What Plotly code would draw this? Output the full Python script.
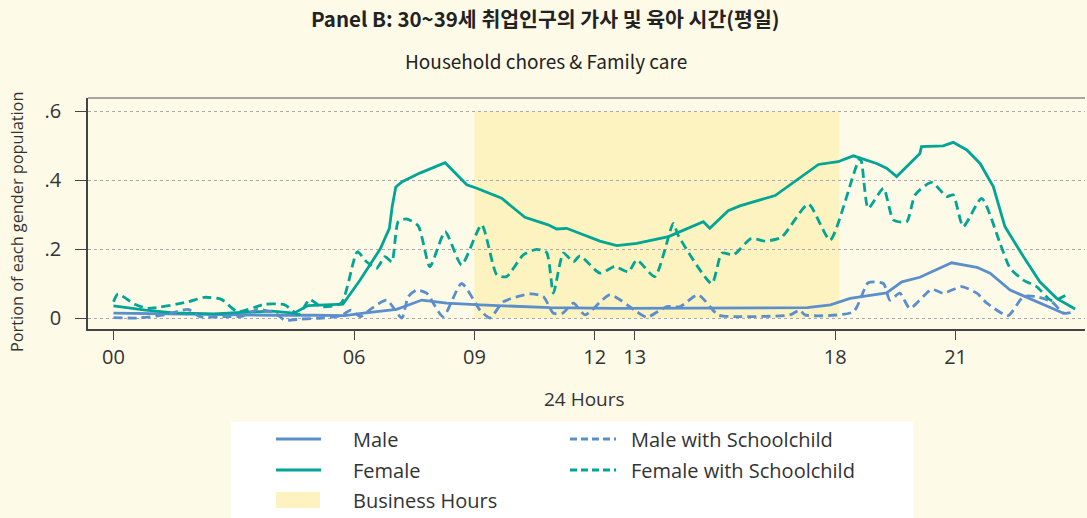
import plotly.graph_objects as go

# ---------------- data ----------------
x_tick_vals = [0, 6, 9, 12, 13, 18, 21]
x_tick_text = ["00", "06", "09", "12", "13", "18", "21"]
y_tick_vals = [0, 0.2, 0.4, 0.6]
y_tick_text = ["0", ".2", ".4", ".6"]

business_hours = [9, 18.1]
business_top = 0.6

male_h = [0, 1.0, 2.0, 3.0, 4.0, 5.0, 5.77, 6.23, 7.06, 7.69, 8.31, 9.14, 10.89, 12.5, 14.0,
          16.2, 17.3, 17.88, 18.37, 19.28, 19.66, 20.11, 20.9, 21.53, 21.86, 22.36, 23.69]
male_v = [0.014, 0.012, 0.01, 0.009, 0.008, 0.008, 0.007, 0.014, 0.025, 0.052, 0.043, 0.038, 0.03,
          0.028, 0.028, 0.029, 0.03, 0.038, 0.057, 0.073, 0.105, 0.118, 0.16, 0.147, 0.13, 0.081, 0.014]

female_h = [0, 0.8, 1.5, 2.5, 3.3, 3.95, 4.5, 4.85, 5.72, 6.15, 6.65, 6.88, 6.95, 7.04, 7.2, 7.64,
            8.27, 8.81, 9.06, 9.68, 10.26, 10.84, 11.05, 11.3, 12.13, 12.55, 13.05, 13.84, 14.71,
            14.87, 15.33, 15.62, 16.5, 17.58, 18.07, 18.45, 19.03, 19.28, 19.53, 20.11, 20.15,
            20.69, 20.94, 21.28, 21.61, 21.94, 22.23, 22.69, 23.1, 23.52, 23.98]
female_v = [0.035, 0.023, 0.015, 0.012, 0.017, 0.02, 0.014, 0.036, 0.04, 0.11, 0.20, 0.26, 0.323,
            0.38, 0.395, 0.42, 0.45, 0.386, 0.376, 0.347, 0.292, 0.27, 0.258, 0.26, 0.223, 0.21,
            0.216, 0.236, 0.279, 0.26, 0.311, 0.325, 0.355, 0.445, 0.453, 0.47, 0.448, 0.434, 0.41,
            0.477, 0.497, 0.499, 0.509, 0.487, 0.448, 0.381, 0.265, 0.178, 0.105, 0.057, 0.026]

male_sc_h = [0, 0.6, 1.28, 1.86, 2.15, 2.8, 3.2, 3.6, 4.02, 4.27, 4.68, 5.2, 5.68, 5.92, 6.15,
             6.44, 6.81, 7.19, 7.35, 7.56, 7.81, 8.22, 8.68, 9.14, 9.39, 9.72, 10.39, 10.72, 10.97,
             11.2, 11.47, 11.76, 12.38, 13.05, 13.3, 13.8, 14.13, 14.58, 15.08, 15.62, 16.87,
             17.12, 17.24, 18.45, 18.82, 19.2, 19.36, 19.61, 19.86, 20.4, 20.69, 21.15, 21.53,
             21.78, 22.31, 22.69, 23.02, 23.4, 23.69, 23.94]
male_sc_v = [0.001, 0.0, 0.009, 0.025, 0.004, 0.004, 0.005, 0.025, 0.015, -0.006, -0.003, 0.0,
             0.007, 0.023, 0.004, 0.028, 0.052, 0.0, 0.062, 0.081, 0.072, 0.004, 0.1, 0.023, 0.0,
             0.047, 0.07, 0.062, 0.014, 0.014, 0.043, 0.009, 0.067, 0.018, 0.002, 0.033, 0.033,
             0.067, 0.009, 0.004, 0.009, 0.023, 0.009, 0.018, 0.102, 0.1, 0.052, 0.072, 0.028,
             0.083, 0.072, 0.091, 0.072, 0.043, 0.007, 0.062, 0.062, 0.047, 0.014, 0.017]

female_sc_h = [0, 0.11, 0.53, 0.86, 1.86, 2.27, 2.69, 3.1, 3.77, 4.27, 4.62, 4.89, 5.17, 5.68,
               6.08, 6.31, 6.56, 6.77, 6.94, 7.1, 7.31, 7.6, 7.89, 8.27, 8.68, 9.18, 9.56, 9.8,
               10.22, 10.55, 10.8, 10.97, 11.22, 11.47, 11.63, 12.13, 12.5, 12.84, 13.05, 13.5,
               13.96, 14.08, 14.92, 15.17, 15.46, 15.9, 16.25, 16.66, 17.33, 17.87, 18.62, 18.82,
               19.2, 19.45, 19.78, 19.99, 20.4, 20.78, 20.94, 21.19, 21.65, 22.11, 22.36, 22.69,
               23.02, 23.4, 23.77]
female_sc_v = [0.047, 0.069, 0.04, 0.028, 0.047, 0.06, 0.054, 0.018, 0.04, 0.038, 0.01, 0.054,
               0.033, 0.043, 0.192, 0.163, 0.144, 0.178, 0.163, 0.279, 0.287, 0.267, 0.149, 0.25,
               0.154, 0.27, 0.125, 0.12, 0.183, 0.199, 0.19, 0.072, 0.188, 0.163, 0.18, 0.13,
               0.149, 0.134, 0.168, 0.12, 0.274, 0.24, 0.1, 0.188, 0.183, 0.23, 0.223, 0.234,
               0.33, 0.226, 0.463, 0.318, 0.376, 0.284, 0.279, 0.357, 0.393, 0.352, 0.357, 0.265,
               0.347, 0.216, 0.144, 0.11, 0.091, 0.05, 0.067]

legend_labels = ["Male", "Female", "Business Hours", "Male with Schoolchild", "Female with Schoolchild"]
title_text = "Panel B: 30~39세 취업인구의 가사 및 육아 시간(평일)"
subtitle_text = "Household chores & Family care"
x_title = "24 Hours"
y_title = "Portion of each gender population"

# ---------------- style ----------------
W, H = 1087, 518
L, R, T, B = 88, 1085, 98, 329          # plot area in pixels
BG = "#FEFAE8"
SHADE = "#FDF3C0"
BLUE = "#5B8FCC"
TEAL = "#00A596"
TXT = "#333333"
LW = 2.8
DASH = "9px,5px"
CJK = "Noto Sans CJK KR"
SANS = "Open Sans"


def px(x):
    return (x - L) / (R - L)


def py(y):
    return (B - y) / (B - T)


fig = go.Figure()

fig.add_trace(go.Scatter(x=male_h, y=male_v, mode="lines", name=legend_labels[0],
                         line=dict(color=BLUE, width=LW), showlegend=False))
fig.add_trace(go.Scatter(x=female_h, y=female_v, mode="lines", name=legend_labels[1],
                         line=dict(color=TEAL, width=LW), showlegend=False))
fig.add_trace(go.Scatter(x=male_sc_h, y=male_sc_v, mode="lines", name=legend_labels[3],
                         line=dict(color=BLUE, width=LW, dash=DASH, shape="spline", smoothing=0.6),
                         showlegend=False))
fig.add_trace(go.Scatter(x=female_sc_h, y=female_sc_v, mode="lines", name=legend_labels[4],
                         line=dict(color=TEAL, width=LW, dash=DASH, shape="spline", smoothing=0.6),
                         showlegend=False))

shapes = []
# business hours shading
shapes.append(dict(type="rect", xref="x", yref="y", x0=business_hours[0], x1=business_hours[1],
                   y0=0, y1=business_top, fillcolor=SHADE, line=dict(width=0), layer="below"))
# top frame line
shapes.append(dict(type="line", xref="paper", yref="paper", x0=0, x1=1, y0=1, y1=1,
                   line=dict(color="#8a8a8a", width=1.5)))
# legend box
shapes.append(dict(type="rect", xref="paper", yref="paper", x0=px(231), x1=px(913),
                   y0=py(520), y1=py(422), fillcolor="white", line=dict(width=0), layer="below"))
# legend samples
rows = [439, 470, 500]
shapes.append(dict(type="line", xref="paper", yref="paper", x0=px(276), x1=px(321),
                   y0=py(rows[0]), y1=py(rows[0]), line=dict(color=BLUE, width=LW)))
shapes.append(dict(type="line", xref="paper", yref="paper", x0=px(276), x1=px(321),
                   y0=py(rows[1]), y1=py(rows[1]), line=dict(color=TEAL, width=LW)))
shapes.append(dict(type="rect", xref="paper", yref="paper", x0=px(276), x1=px(320),
                   y0=py(508), y1=py(492), fillcolor=SHADE, line=dict(width=0)))
shapes.append(dict(type="line", xref="paper", yref="paper", x0=px(570), x1=px(616),
                   y0=py(rows[0]), y1=py(rows[0]), line=dict(color=BLUE, width=LW, dash="7px,4px")))
shapes.append(dict(type="line", xref="paper", yref="paper", x0=px(570), x1=px(616),
                   y0=py(rows[1]), y1=py(rows[1]), line=dict(color=TEAL, width=LW, dash="7px,4px")))

annotations = []
leg_font = dict(family=SANS, size=20, color=TXT)
for lab, yy in zip(legend_labels[:3], rows):
    annotations.append(dict(text=lab, xref="paper", yref="paper", x=px(351), y=py(yy),
                            xanchor="left", yanchor="middle", showarrow=False, font=leg_font))
for lab, yy in zip(legend_labels[3:], rows[:2]):
    annotations.append(dict(text=lab, xref="paper", yref="paper", x=px(629), y=py(yy),
                            xanchor="left", yanchor="middle", showarrow=False, font=leg_font))

annotations.append(dict(text="<b>" + title_text + "</b>", xref="paper", yref="paper",
                        x=px(545), y=py(18), xanchor="center", yanchor="middle", showarrow=False,
                        font=dict(family=CJK, size=20.5, color="#222")))
annotations.append(dict(text=subtitle_text, xref="paper", yref="paper",
                        x=px(546), y=py(60), xanchor="center", yanchor="middle", showarrow=False,
                        font=dict(family=CJK, size=19, color="#222")))
annotations.append(dict(text=x_title, xref="paper", yref="paper",
                        x=px(584), y=py(399), xanchor="center", yanchor="middle", showarrow=False,
                        font=dict(family=SANS, size=19, color=TXT)))
annotations.append(dict(text=y_title, xref="paper", yref="paper", textangle=-90,
                        x=px(17), y=py(222), xanchor="center", yanchor="middle", showarrow=False,
                        font=dict(family=SANS, size=16.3, color=TXT)))

x_lo = -(113.5 - L) / 40.1
x_hi = (R - 113.5) / 40.1
y_lo = -(B - 318) / 345
y_hi = (318 - T) / 345

fig.update_layout(
    width=W, height=H,
    margin=dict(l=L, r=W - R, t=T, b=H - B, autoexpand=False),
    paper_bgcolor=BG, plot_bgcolor=BG,
    shapes=shapes, annotations=annotations,
    showlegend=False,
    xaxis=dict(range=[x_lo, x_hi], tickvals=x_tick_vals, ticktext=x_tick_text,
               showgrid=False, zeroline=False, showline=True, linecolor="#444", linewidth=1.5,
               ticks="outside", ticklen=9, tickcolor="#444", tickwidth=1,
               tickfont=dict(family=SANS, size=20, color=TXT)),
    yaxis=dict(range=[y_lo, y_hi], tickvals=y_tick_vals, ticktext=y_tick_text,
               showgrid=True, gridcolor="#aaaaaa", griddash="dot", gridwidth=1,
               zeroline=False, showline=True, linecolor="#444", linewidth=1.5,
               ticks="outside", ticklen=11, tickcolor="#444", tickwidth=1,
               ticklabelstandoff=10,
               tickfont=dict(family=SANS, size=20, color=TXT)),
)

fig.write_html("out.html", config={"displayModeBar": False},
               post_script="document.body.style.margin='0px';")
